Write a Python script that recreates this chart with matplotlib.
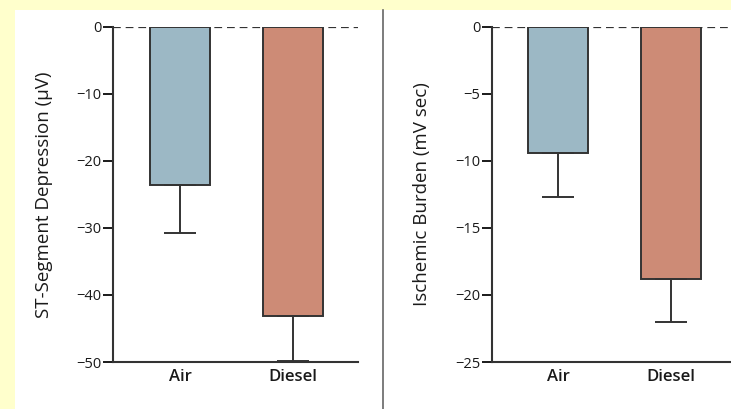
import matplotlib.pyplot as plt
from matplotlib.patches import Rectangle
from matplotlib.lines import Line2D

plt.rcParams['font.family'] = ['Open Sans', 'DejaVu Sans']

# --- data ---
groups = ['Air', 'Diesel']
st_depression = [-23.6, -43.1]
st_error = [7.1, 6.8]
ischemic_burden = [-9.4, -18.8]
ischemic_error = [3.3, 3.2]

colors = ['#9cb8c5', '#cd8b76']
edge = '#333333'
W, H = 731, 409

fig = plt.figure(figsize=(W / 100, H / 100), dpi=100, facecolor='#ffffcc')

# white panel and divider
fig.patches.append(Rectangle((15 / W, 0), 1 - 15 / W, 1 - 10 / H, transform=fig.transFigure,
                             facecolor='white', edgecolor='none', zorder=-5))
fig.lines.append(Line2D([383 / W, 383 / W], [0, 1 - 10 / H], transform=fig.transFigure,
                        color='#666666', linewidth=1.2, zorder=1))


def panel(rect, xlim, values, errors, ylim, yticks, ylabel, label_x):
    ax = fig.add_axes(rect)
    ax.patch.set_alpha(0)
    x = range(len(groups))
    ax.bar(x, values, width=0.53, color=colors, edgecolor=edge, linewidth=1.4, zorder=2)
    ax.errorbar(x, values, yerr=[errors, [0, 0]], fmt='none', ecolor=edge,
                elinewidth=1.4, capsize=11.5, capthick=1.4, zorder=3)
    ax.axhline(0, color=edge, linestyle=(0, (3.5, 2.2)), linewidth=1.6, zorder=1)
    ax.set_xlim(*xlim)
    ax.set_ylim(*ylim)
    ax.set_yticks(yticks)
    ax.set_xticks(list(x))
    ax.set_xticklabels(groups, fontsize=12, fontweight='semibold', color='#1a1a1a')
    ax.tick_params(axis='x', length=0, pad=5)
    ax.tick_params(axis='y', direction='out', length=7, width=1.4, labelsize=10.5,
                   colors='#1a1a1a', pad=1.5)
    for s in ['top', 'right']:
        ax.spines[s].set_visible(False)
    for s in ['left', 'bottom']:
        ax.spines[s].set_linewidth(1.5)
        ax.spines[s].set_color(edge)
    ax.set_ylabel(ylabel, fontsize=13.5, fontweight='medium', color='#1a1a1a')
    ax.yaxis.set_label_coords(label_x, 0.5)
    return ax


bottom = 1 - 362 / H
height = 335 / H
panel([113 / W, bottom, 245 / W, height], (-0.593, 1.575), st_depression, st_error,
      (-50, 0), [0, -10, -20, -30, -40, -50], 'ST-Segment Depression (μV)', -0.245)
panel([492 / W, bottom, 239 / W, height], (-0.584, 1.531), ischemic_burden, ischemic_error,
      (-25, 0), [0, -5, -10, -15, -20, -25], 'Ischemic Burden (mV sec)', -0.255)

fig.savefig('out.png', dpi=100, facecolor=fig.get_facecolor())
